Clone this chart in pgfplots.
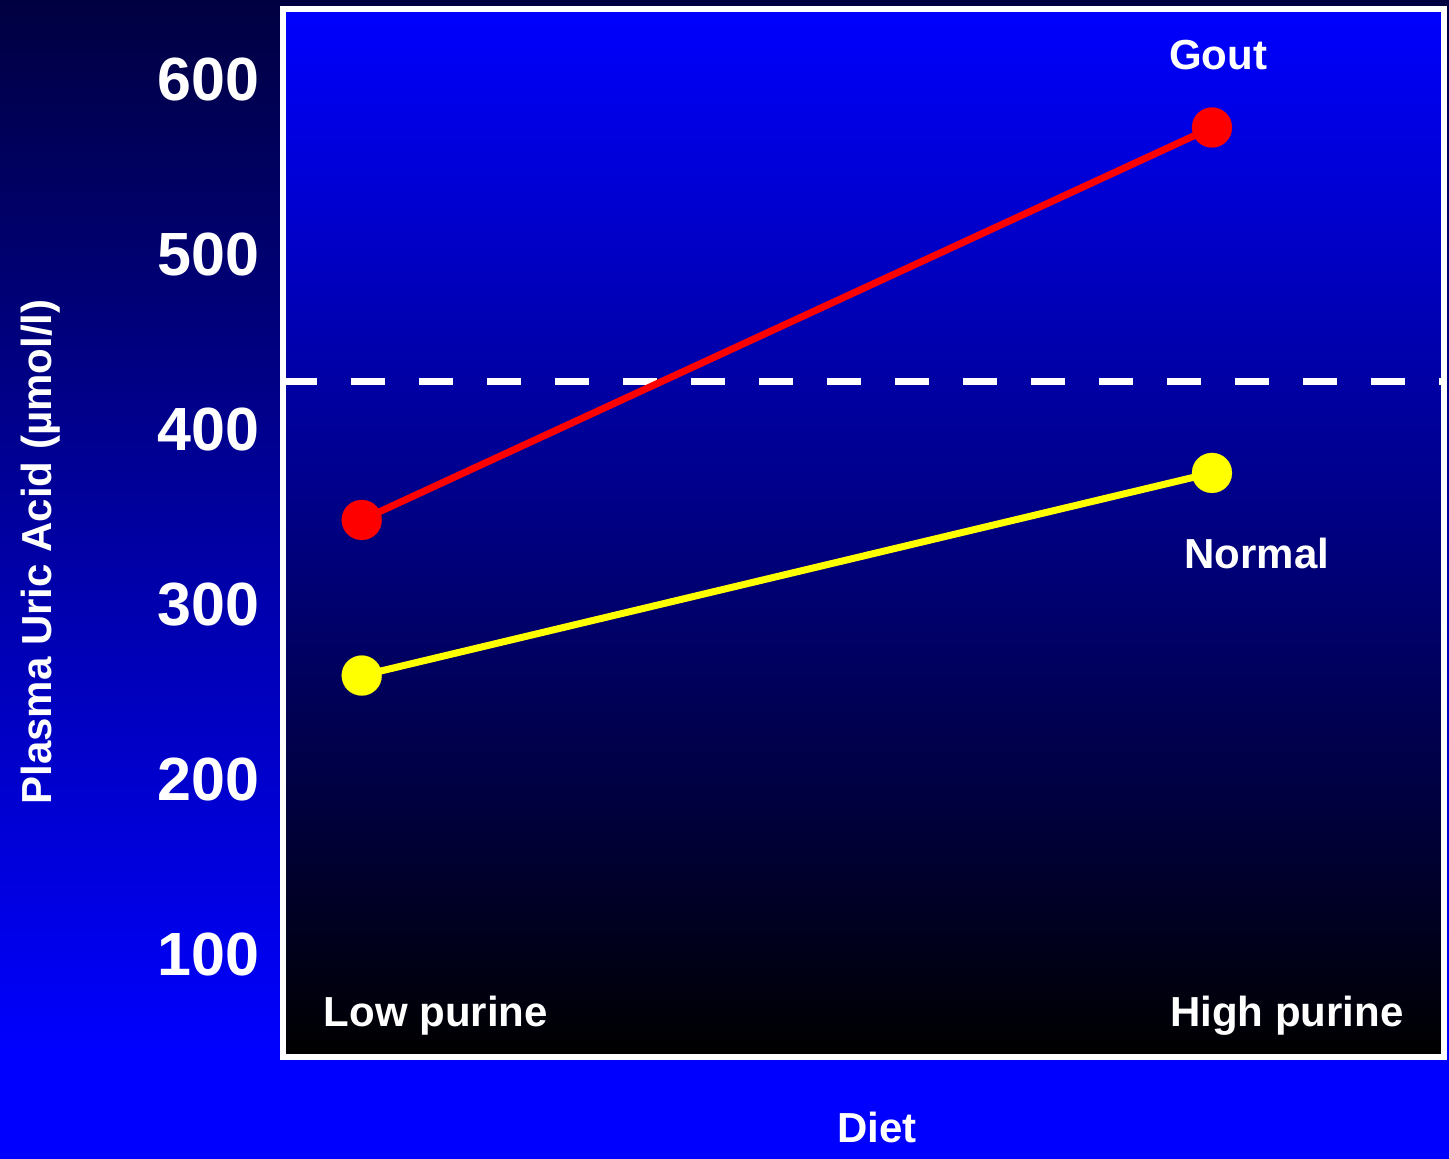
\documentclass[border=0pt]{standalone}
\usepackage{pgfplots}
\pgfplotsset{compat=1.18}
\usepackage{fontspec}
\setmainfont{Liberation Sans}
\definecolor{navytop}{RGB}{0,0,65}
\definecolor{pureblue}{RGB}{0,0,255}
\definecolor{gred}{RGB}{255,0,0}
\definecolor{nyellow}{RGB}{255,255,0}
\tikzset{lab/.style={font=\fontsize{21}{25}\selectfont\bfseries, text=white, inner sep=0pt}}
\begin{document}
\begin{tikzpicture}
\useasboundingbox (-141.5pt,-51pt) rectangle (583pt,528.5pt);
\fill[pureblue] (-141.5pt,-51pt) rectangle (583pt,0pt);
\shade[top color=navytop, bottom color=pureblue] (-141.5pt,-0.2pt) rectangle (583pt,528.5pt);
\begin{axis}[
  at={(0pt,0pt)}, anchor=south west,
  scale only axis, width=580.25pt, height=524pt,
  xmin=-0.0926, xmax=1.2723, ymin=41.1, ymax=640.6,
  xtick=\empty, ytick={100,200,300,400,500,600},
  major tick length=0pt,
  axis line style={white, line width=3pt},
  axis background/.style={shade, top color=pureblue, bottom color=black},
  /pgf/number format/assume math mode=true,
  yticklabel style={font=\fontsize{30.5}{36}\selectfont\bfseries, text=white, inner sep=0pt, xshift=-11.5pt},
  clip=false,
  label style={font=\fontsize{21}{25}\selectfont\bfseries, text=white, inner sep=0pt},
  ylabel={Plasma Uric Acid (µmol/l)},
  ylabel style={at={(rel axis cs:-0.1991,0.4819)}, anchor=base},
  xlabel={Diet},
  xlabel style={at={(rel axis cs:0.5119,-0.0668)}, anchor=center},
]
\addplot[white, line width=3.5pt, dash pattern=on 17pt off 17pt] coordinates {(-0.0926,427.5) (1.2723,427.5)};
\addplot[gred, line width=3.5pt, mark=*, mark size=10pt, mark options={fill=gred, draw=gred, line width=0.1pt}] coordinates {(0,348.3) (1,572.8)};
\addplot[nyellow, line width=3.5pt, mark=*, mark size=10pt, mark options={fill=nyellow, draw=nyellow, line width=0.1pt}] coordinates {(0,259.3) (1,375.2)};
\node[lab, anchor=base] at (axis cs:1.0071,605.7) {Gout};
\node[lab, anchor=base] at (axis cs:1.0529,320.7) {Normal};
\node[lab, anchor=base] at (axis cs:0.0871,58.4) {Low purine};
\node[lab, anchor=base] at (axis cs:1.0882,58.8) {High purine};
\end{axis}
\end{tikzpicture}
\end{document}
